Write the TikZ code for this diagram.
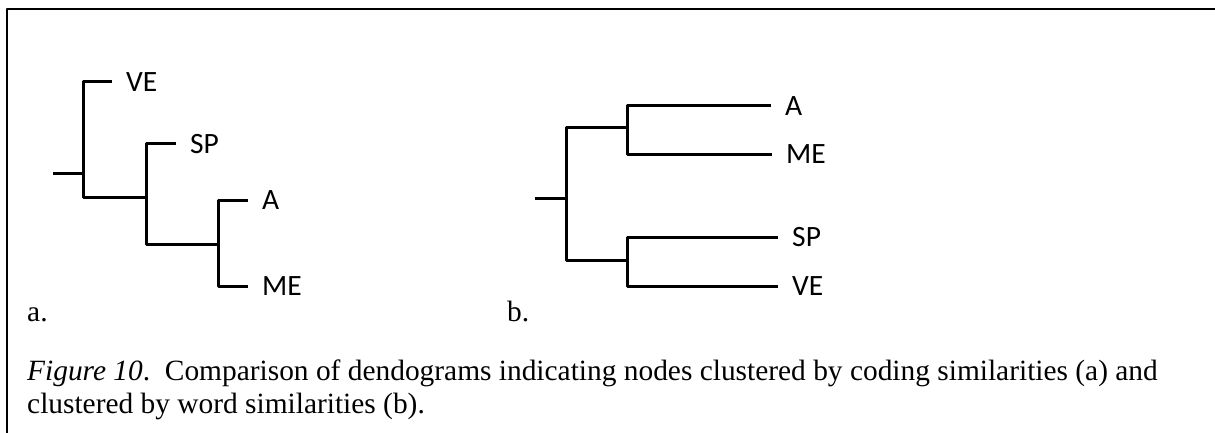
\documentclass[tikz,border=0pt]{standalone}
\usepackage{fontspec}
\setmainfont{Liberation Serif}
\newfontfamily\leaffont{Carlito}
\begin{document}
\begin{tikzpicture}[x=1pt,y=-1pt,line join=round,
	branch/.style={line width=3pt},
	leaf/.style={anchor=west,inner xsep=14pt,inner ysep=0pt,font=\leaffont\fontsize{29.5}{30}\selectfont},
	panel/.style={anchor=base west,inner sep=0pt,font=\fontsize{29.4}{33}\selectfont}]
		\useasboundingbox (0,0) rectangle (1215,433);
		\draw[line width=2pt] (7,433)--(7,9.5)--(1215,9.5);
		%	(a) clustered by coding
		\node[leaf] (aVE) at (112,82) {VE};
		\node[leaf] (aSP) at (176,144) {SP};
		\node[leaf] (aA) at (248,200) {A};
		\node[leaf] (aME) at (248,286) {ME};
		\coordinate (aR) at (53,173);
		\coordinate (a1) at (83,197);
		\coordinate (a2) at (146,197);
		\coordinate (a3) at (146,244);
		\coordinate (a4) at (218,244);
		\draw[branch] (aR)--(aR -| a1);
		\draw[branch] (aVE.west)-|(a1)--(a2);
		\draw[branch] (aSP.west)-|(a3)--(a4);
		\draw[branch] (aA.west)-|(a4)|-(aME.west);
		\node[panel] (la) at (27,321) {a.};
		%	(b) clustered by words
		\node[leaf] (bA) at (771,106) {A};
		\node[leaf] (bME) at (772,154) {ME};
		\node[leaf] (bSP) at (778,237) {SP};
		\node[leaf] (bVE) at (778,286) {VE};
		\coordinate (bR) at (535,198);
		\coordinate (b1) at (566,128);
		\coordinate (b2) at (566,260);
		\coordinate (bAME) at (627,128);
		\coordinate (bSV) at (627,260);
		\draw[branch] (bR)--(bR -| b1);
		\draw[branch] (bAME)--(b1)--(b2)--(bSV);
		\draw[branch] (bA.west)-|(bAME)|-(bME.west);
		\draw[branch] (bSP.west)-|(bSV)|-(bVE.west);
		\node[panel] (lb) at (507,321) {b.};
		%	caption (base sits on the last line)
		\node[panel,align=left] (cap) at (27,413) {\textit{Figure 10}.\ \ Comparison of dendograms indicating nodes clustered by coding similarities (a) and\\clustered by word similarities (b).};
\end{tikzpicture}
\end{document}
